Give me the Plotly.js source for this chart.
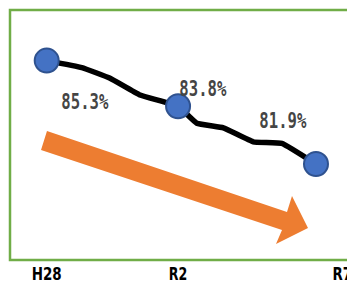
<!DOCTYPE html>
<html><head><meta charset="utf-8">
<script src="https://cdn.plot.ly/plotly-3.0.1.min.js"></script>
<style>html,body{margin:0;padding:0;background:#fff;overflow:hidden}#chart{width:347px;height:284px}</style>
</head><body><div id="chart"></div>
<script>
// ---- data ----
const tickYears = [2016, 2020, 2025];
const tickLabels = ['H28', 'R2', 'R7'];
const markerYears = [2016, 2020, 2024.2];
const markerValues = [85.3, 83.8, 81.9];
const valueLabels = ['85.3%', '83.8%', '81.9%'];
const lineYears = [2016, 2017.07, 2017.93, 2018.84, 2020, 2020.57, 2021.38, 2022.29, 2023.16, 2024.2];
const lineValues = [85.3, 85.07, 84.72, 84.17, 83.8, 83.24, 83.09, 82.63, 82.58, 81.9];

// ---- layout geometry ----
const W = 347, H = 284, B = 23, PH = H - B;
// pixel scale of the axes
const X0PX = 46.7, XPERYR = 32.84, YMIDPX = 110.27, YMID = 83.667, YPERPT = 30.43;
const yrAt = px => 2016 + (px - X0PX) / XPERYR;
const valAt = py => YMID - (py - YMIDPX) / YPERPT;
const fx = px => px / W;
const fy = py => (PH - py) / PH;
const pt = (px, py) => fx(px).toFixed(4) + ',' + fy(py).toFixed(4);
const arrowPx = [[47,131],[287,212],[292,196],[308,228],[276,244],[282,230],[41,150]];
const arrowPath = 'M' + arrowPx.map(p => pt(p[0], p[1])).join(' L') + ' Z';

const labelFont = {family: '"DejaVu Sans Mono", monospace', size: 20.5, color: '#454545', weight: 'bold'};
const labelShifts = [[38.6, -41.6], [24.9, 17.7], [-33.3, 43.2]];

const traces = [
  {x: lineYears, y: lineValues, mode: 'lines', type: 'scatter',
   line: {color: '#000', width: 5.5, shape: 'spline', smoothing: 0.3}, hoverinfo: 'skip'},
  {x: markerYears, y: markerValues, mode: 'markers', type: 'scatter',
   marker: {size: 24, color: '#4472C4', line: {color: '#2F528F', width: 2}}}
];

const layout = {
  width: W, height: H,
  margin: {l: 0, r: 0, t: 0, b: B, pad: 0},
  paper_bgcolor: '#fff', plot_bgcolor: '#fff',
  showlegend: false,
  xaxis: {range: [yrAt(0), yrAt(W)], tickvals: tickYears, ticktext: tickLabels,
          showgrid: false, zeroline: false, showline: false, ticks: '', fixedrange: true,
          ticklabeloverflow: 'allow',
          tickfont: {family: '"DejaVu Sans", sans-serif', size: 18, color: '#000', weight: 'bold'}},
  yaxis: {range: [valAt(PH), valAt(0)], visible: false, fixedrange: true},
  shapes: [
    {type: 'rect', xref: 'paper', yref: 'paper', x0: fx(10), x1: fx(370), y0: fy(260), y1: fy(10),
     line: {color: '#70AD47', width: 2.5}, layer: 'below'},
    {type: 'path', xref: 'paper', yref: 'paper', path: arrowPath,
     fillcolor: '#ED7D31', line: {width: 0}, layer: 'below'}
  ],
  annotations: markerYears.map((x, i) => ({
    x: x, y: markerValues[i], xref: 'x', yref: 'y', text: valueLabels[i], showarrow: false,
    xshift: labelShifts[i][0], yshift: labelShifts[i][1], font: labelFont
  }))
};

// narrow the glyphs so the texts take the reference's widths
const labelWidths = [47, 47, 47];
const tickWidths = {H28: 30, R2: 18.5, R7: 19.5};

Plotly.newPlot('chart', traces, layout, {staticPlot: true, displayModeBar: false}).then(gd => {
  gd.querySelectorAll('.annotation-text').forEach((t, i) => {
    t.setAttribute('textLength', labelWidths[i] || 47);
    t.setAttribute('lengthAdjust', 'spacingAndGlyphs');
  });
  gd.querySelectorAll('.xtick text').forEach(t => {
    const w = tickWidths[t.textContent.trim()];
    if (w) { t.setAttribute('textLength', w); t.setAttribute('lengthAdjust', 'spacingAndGlyphs'); }
  });
});
</script></body></html>
